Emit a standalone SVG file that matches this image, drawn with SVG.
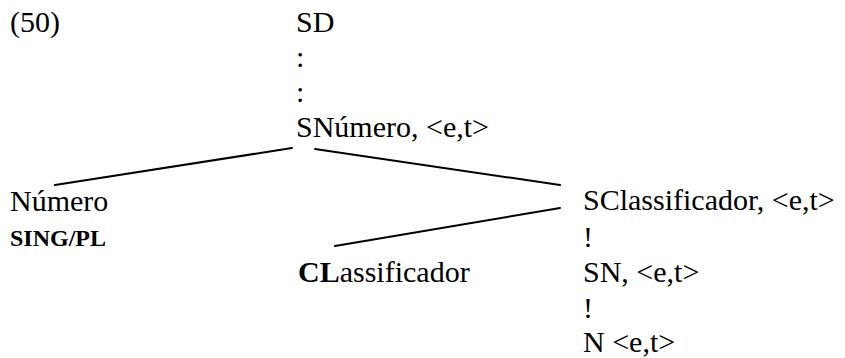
<svg xmlns="http://www.w3.org/2000/svg" width="845" height="358" viewBox="0 0 845 358">
<style>
text{font-family:"Liberation Serif","Times New Roman",serif;font-size:30px;fill:#000}
.b{font-weight:bold}
.s{font-size:24px;font-weight:bold}
line{stroke:#000;stroke-width:2;stroke-linecap:round}
</style>
<rect width="845" height="358" fill="#fff"/>
<text id="label" x="10" y="32">(50)</text>
<g id="SD"><text x="296" y="32">SD</text></g>
<g id="dots">
<text x="296" y="67">:</text>
<text x="296" y="102">:</text>
</g>
<g id="SNumero"><text x="296" y="137">SNúmero, &lt;e,t&gt;</text></g>
<g id="Numero">
<text x="10" y="211">Número</text>
<text class="s" x="10" y="246">SING/PL</text>
</g>
<g id="SClassificador">
<text x="583" y="210">SClassificador, &lt;e,t&gt;</text>
<text x="583" y="247">!</text>
</g>
<g id="Classificador"><text x="298" y="282"><tspan class="b">CL</tspan>assificador</text></g>
<g id="SN">
<text x="583" y="282">SN, &lt;e,t&gt;</text>
<text x="583" y="318">!</text>
</g>
<g id="N"><text x="583" y="352">N &lt;e,t&gt;</text></g>
<g id="connectors">
<line x1="292" y1="148" x2="55" y2="185"/>
<line x1="315" y1="149" x2="560" y2="185"/>
<line x1="560" y1="208" x2="335" y2="246"/>
</g>
</svg>
